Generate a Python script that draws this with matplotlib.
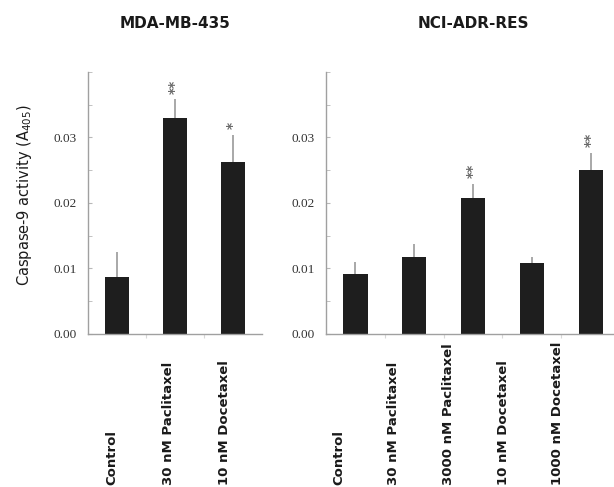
"""
    Caspase-9 activity: MDA-MB-435 vs NCI-ADR-RES
"""

import numpy as np
from matplotlib import pyplot as plt
from matplotlib import transforms

# Dati
labels_mda = ["Control", "30 nM Paclitaxel", "10 nM Docetaxel"]
values_mda = [0.0087, 0.0329, 0.0262]
errors_mda = [0.0038, 0.0029, 0.0042]
stars_mda = ["", "**", "*"]

labels_nci = ["Control", "30 nM Paclitaxel", "3000 nM Paclitaxel",
              "10 nM Docetaxel", "1000 nM Docetaxel"]
values_nci = [0.0092, 0.0118, 0.0207, 0.0109, 0.0251]
errors_nci = [0.0018, 0.0019, 0.0022, 0.0008, 0.0026]
stars_nci = ["", "", "**", "", "**"]

yticks = [0.00, 0.01, 0.02, 0.03]


def draw_panel(fig, ax, title, labels, values, errors, stars, label_scale, label_shift):
    x = np.arange(len(values))
    ax.bar(x, values, width=0.41, color="#1e1e1e", zorder=2)
    ax.errorbar(x, values, yerr=[np.zeros(len(errors)), errors], fmt="none",
                ecolor="#9a9a9a", elinewidth=1.2, capsize=0, zorder=1)

    for xi, v, e, s in zip(x, values, errors, stars):
        if s:
            ax.annotate(s, (xi, v + e), xytext=(0, 4), textcoords="offset points",
                        ha="center", va="bottom", rotation=90, fontsize=10,
                        color="#6a6a6a", fontweight="bold")

    ax.set_xlim(-0.5, len(values) - 0.5)
    ax.set_ylim(0, 0.04)
    ax.set_yticks(yticks)
    ax.set_yticklabels(["%.2f" % t for t in yticks], family="Liberation Serif",
                       fontsize=9.5, color="#333333")
    ax.set_yticks(np.arange(0.005, 0.04, 0.005), minor=True)
    ax.set_xticks(np.arange(0.5, len(values) - 0.5, 1.0))
    ax.set_xticklabels([])
    ax.tick_params(axis="y", which="both", direction="in", length=3, color="#b8b8b8", pad=8)
    ax.tick_params(axis="x", direction="out", length=3, color="#d8d8d8")

    for side in ["top", "right"]:
        ax.spines[side].set_visible(False)
    for side in ["left", "bottom"]:
        ax.spines[side].set_color("#a0a0a0")
        ax.spines[side].set_linewidth(1.0)

    # Etichette delle categorie, ruotate e allineate in basso
    trans = transforms.blended_transform_factory(ax.transData, fig.transFigure)
    for i, lab in enumerate(labels):
        ax.text(i * label_scale + label_shift, 0.004, lab, transform=trans, rotation=90,
                ha="center", va="bottom", fontsize=9.5, fontweight="bold",
                color="#1a1a1a", clip_on=False)

    ax.set_title(title, fontsize=11, fontweight="bold", pad=32, color="#1a1a1a")


def main():
    fig = plt.figure(figsize=(6.14, 4.87), dpi=100)
    ax1 = fig.add_axes([0.1433, 0.3142, 0.2834, 0.538])
    ax2 = fig.add_axes([0.531, 0.3142, 0.479, 0.538])

    draw_panel(fig, ax1, "MDA-MB-435", labels_mda, values_mda, errors_mda, stars_mda, 0.965, -0.08)
    draw_panel(fig, ax2, "NCI-ADR-RES", labels_nci, values_nci, errors_nci, stars_nci, 0.93, -0.28)

    fig.text(0.04, 0.6, "Caspase-9 activity (A$_{405}$)", rotation=90,
             ha="center", va="center", fontsize=10.5, fontweight="medium", color="#1a1a1a")

    fig.savefig("out.png", dpi=100)


if __name__ == "__main__":
    main()
